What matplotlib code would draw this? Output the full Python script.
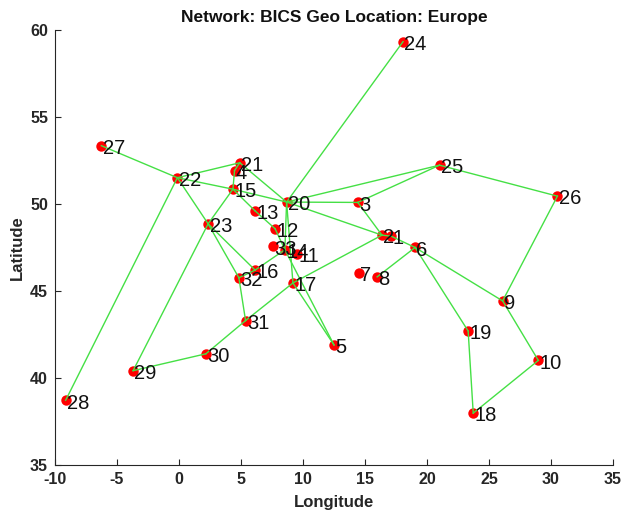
import numpy as np
import matplotlib
matplotlib.use('Agg')
import matplotlib.pyplot as plt

plt.rcParams['font.family'] = ['Liberation Sans', 'DejaVu Sans']
plt.rcParams['axes.unicode_minus'] = False

# node id, longitude, latitude
node_ids = [1, 2, 3, 4, 5, 6, 7, 8, 9, 10, 11, 12, 13, 14, 15, 16, 17,
            18, 19, 20, 21, 22, 23, 24, 25, 26, 27, 28, 29, 30, 31, 32, 33]
lon = [17.11, 16.37, 14.42, 4.48, 12.50, 19.04, 14.51, 15.98, 26.10, 28.98,
       9.52, 7.75, 6.13, 8.54, 4.35, 6.14, 9.19, 23.73, 23.32, 8.68,
       4.90, -0.13, 2.35, 18.07, 21.01, 30.52, -6.26, -9.14, -3.70, 2.17,
       5.37, 4.83, 7.59]
lat = [48.15, 48.21, 50.09, 51.92, 41.90, 47.50, 46.06, 45.81, 44.43, 41.01,
       47.14, 48.58, 49.61, 47.37, 50.85, 46.20, 45.46, 37.98, 42.70, 50.11,
       52.37, 51.51, 48.86, 59.33, 52.23, 50.45, 53.35, 38.72, 40.42, 41.39,
       43.30, 45.76, 47.56]

links = [(24, 20), (27, 22), (22, 21), (22, 15), (22, 23), (22, 28),
         (21, 4), (4, 15), (21, 20), (15, 20), (15, 13), (13, 12),
         (15, 23), (23, 29), (23, 16), (23, 32), (32, 31), (32, 16),
         (16, 14), (20, 14), (20, 17), (12, 14), (14, 5), (17, 5),
         (17, 31), (31, 30), (30, 29), (17, 2), (20, 2), (20, 3),
         (20, 25), (3, 25), (3, 2), (2, 1), (1, 6), (6, 8), (6, 9),
         (6, 19), (25, 26), (26, 9), (9, 10), (10, 18), (18, 19)]

pos = {n: (x, y) for n, x, y in zip(node_ids, lon, lat)}

fig = plt.figure(figsize=(6.22, 5.17), dpi=100)
ax = fig.add_axes([0.0884, 0.1006, 0.8971, 0.8414])

ax.plot(lon, lat, 'o', color='#ff0000', markersize=7.5, markeredgewidth=0, zorder=2)
for a, b in links:
    ax.plot([pos[a][0], pos[b][0]], [pos[a][1], pos[b][1]], '-',
            color='#45e045', lw=1.0, zorder=3)
for n, x, y in zip(node_ids, lon, lat):
    ax.annotate(str(n), (x, y), xytext=(1.0, -2.0), textcoords='offset points',
                ha='left', va='center', fontsize=14.5, color='#111111', zorder=4)

ax.set_xlim(-10, 35)
ax.set_ylim(35, 60)
ax.set_xticks(np.arange(-10, 36, 5))
ax.set_yticks(np.arange(35, 61, 5))
for s in ['top', 'right']:
    ax.spines[s].set_visible(False)
for s in ['left', 'bottom']:
    ax.spines[s].set_color('#262626')
    ax.spines[s].set_linewidth(0.8)
ax.tick_params(direction='in', length=4, width=0.8, colors='#262626',
               labelsize=11.5, pad=5)
for t in ax.get_xticklabels() + ax.get_yticklabels():
    t.set_fontweight('bold')

ax.set_xlabel('Longitude', fontsize=12, fontweight='bold', color='#262626', labelpad=6)
ax.set_ylabel('Latitude', fontsize=12, fontweight='bold', color='#262626', labelpad=4)
ax.set_title('Network: BICS Geo Location: Europe', fontsize=12.5, fontweight='bold',
             color='#111111', pad=6)

fig.savefig('out.png', dpi=100)
plt.close(fig)
